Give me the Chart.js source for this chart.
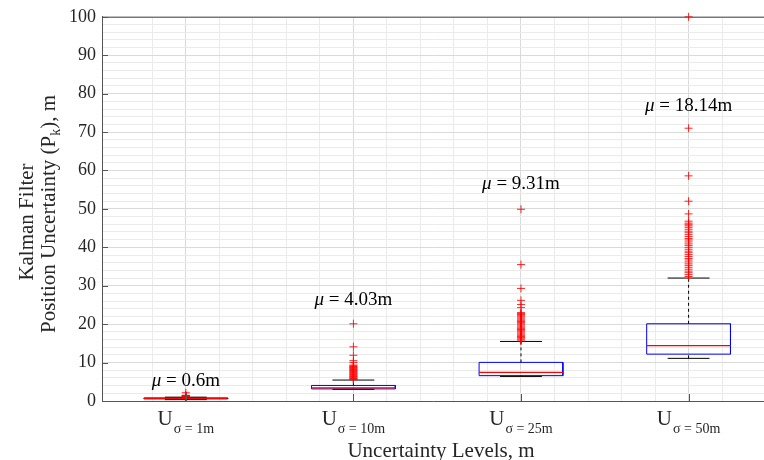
<!DOCTYPE html>
<html>
<head>
<meta charset="utf-8">
<title>Kalman Filter Position Uncertainty</title>
<script src="https://cdn.jsdelivr.net/npm/chart.js@4/dist/chart.umd.min.js"></script>
<style>
  html, body { margin: 0; padding: 0; background: #fff; }
  #wrap { width: 764px; height: 460px; position: relative; }
</style>
</head>
<body>
<div id="wrap"><canvas id="boxChart"></canvas></div>
<script>
// uncertainty levels (sigma) shown on the x axis
const levels = ['1m', '10m', '25m', '50m'];
const means = [0.6, 4.03, 9.31, 18.14];

// box statistics per level
const q1 = [0.55, 3.15, 6.6, 12.2];
const medians = [0.7, 3.4, 7.45, 14.4];
const q3 = [0.8, 4.05, 10.05, 20.1];
const whiskerLow = [0.35, 3.05, 6.4, 11.1];
const whiskerHigh = [1.0, 5.45, 15.5, 32.0];

// outliers per level
const outliers1m = [1.05, 1.1, 1.15, 1.2, 1.25, 1.3, 1.35, 1.4, 1.5, 2.15];
const outliers10m = [5.55, 5.7, 5.85, 6.0, 6.2, 6.35, 6.5, 6.7, 6.85, 7.0, 7.2, 7.35,
  7.5, 7.7, 7.85, 8.0, 8.2, 8.35, 8.5, 8.7, 8.85, 9.0, 9.15, 9.35, 10.0, 10.5, 11.9, 14.1, 20.1];
const outliers25m = [15.6, 15.9, 16.2, 16.5, 16.8, 17.1, 17.4, 17.7, 18.0, 18.3, 18.6,
  18.9, 19.2, 19.5, 19.8, 20.1, 20.4, 20.7, 21.0, 21.3, 21.6, 21.9, 22.2, 22.5, 22.8,
  23.0, 24.3, 25.1, 26.2, 29.3, 35.5, 49.9];
const outliers50m = [32.4, 32.9, 33.4, 33.8, 34.3, 34.8, 35.3, 35.7, 36.2, 36.7, 37.1,
  37.6, 38.1, 38.6, 39.0, 39.5, 40.0, 40.5, 40.9, 41.4, 41.9, 42.3, 42.8, 43.3, 43.8,
  44.2, 44.7, 45.2, 45.6, 46.0, 46.3, 46.8, 48.7, 52.0, 58.6, 71.0, 100];
const outliers = [outliers1m, outliers10m, outliers25m, outliers50m];

// y axis ticks
const yTicks = [0, 10, 20, 30, 40, 50, 60, 70, 80, 90, 100];

// where the mean annotation sits (in data units)
const meanLabelY = [5.2, 26.2, 56.4, 76.9];

const SERIF = '"Liberation Serif", "Times New Roman", serif';
const HALF = 0.25;   // half box width, x units
const CAP = 0.125;   // half whisker cap width

// build the line segments of each box plot
const boxPts = [], medPts = [], whiskPts = [], capPts = [], outPts = [];
levels.forEach((lv, k) => {
  const x = k + 1;
  boxPts.push({x: x - HALF, y: q1[k]}, {x: x - HALF, y: q3[k]}, {x: x + HALF, y: q3[k]},
    {x: x + HALF, y: q1[k]}, {x: x - HALF, y: q1[k]}, {x: x, y: null});
  medPts.push({x: x - HALF, y: medians[k]}, {x: x + HALF, y: medians[k]}, {x: x, y: null});
  whiskPts.push({x: x, y: q3[k]}, {x: x, y: whiskerHigh[k]}, {x: x + 0.01, y: null},
    {x: x, y: whiskerLow[k]}, {x: x, y: q1[k]}, {x: x + 0.01, y: null});
  capPts.push({x: x - CAP, y: whiskerHigh[k]}, {x: x + CAP, y: whiskerHigh[k]}, {x: x, y: null},
    {x: x - CAP, y: whiskerLow[k]}, {x: x + CAP, y: whiskerLow[k]}, {x: x, y: null});
  outliers[k].forEach(v => outPts.push({x: x, y: v}));
});

const isWhole = v => Math.abs(v - Math.round(v)) < 1e-6;

// axis decorations and all the serif text (subscripts, italic mu)
const textPlugin = {
  id: 'boxText',
  afterDraw(chart) {
    const ctx = chart.ctx;
    const xs = chart.scales.x, ys = chart.scales.y;
    const area = chart.chartArea;
    ctx.save();

    // top border and inward ticks
    ctx.strokeStyle = '#555';
    ctx.lineWidth = 1;
    ctx.beginPath();
    ctx.moveTo(area.left, area.top + 0.5);
    ctx.lineTo(area.right, area.top + 0.5);
    levels.forEach((lv, k) => {
      const px = Math.round(xs.getPixelForValue(k + 1)) + 0.5;
      ctx.moveTo(px, area.bottom);
      ctx.lineTo(px, area.bottom - 7);
    });
    yTicks.forEach(t => {
      const py = Math.round(ys.getPixelForValue(t)) + 0.5;
      ctx.moveTo(area.left, py);
      ctx.lineTo(area.left + 6, py);
    });
    ctx.stroke();

    ctx.fillStyle = '#262626';
    ctx.textBaseline = 'alphabetic';
    ctx.textAlign = 'left';

    // x tick labels: U with sigma subscript
    levels.forEach((lv, k) => {
      const cx = xs.getPixelForValue(k + 1);
      const sub = '\u03c3 = ' + lv;
      ctx.font = '21px ' + SERIF;
      const wU = ctx.measureText('U').width;
      ctx.font = '14px ' + SERIF;
      const wS = ctx.measureText(sub).width;
      const x0 = cx - (wU + 1 + wS) / 2;
      ctx.font = '21px ' + SERIF;
      ctx.fillText('U', x0, 425);
      ctx.font = '14px ' + SERIF;
      ctx.fillText(sub, x0 + wU + 1, 433);
    });

    // x axis title
    ctx.font = '21px ' + SERIF;
    ctx.textAlign = 'center';
    ctx.fillText('Uncertainty Levels, m', 441, 457);

    // y axis title, two rotated lines
    ctx.save();
    ctx.rotate(-Math.PI / 2);
    ctx.font = '21px ' + SERIF;
    ctx.textAlign = 'center';
    ctx.fillText('Kalman Filter', -222, 33);
    const partA = 'Position Uncertainty (P';
    const partB = 'k';
    const partC = '), m';
    const wA = ctx.measureText(partA).width;
    const wC = ctx.measureText(partC).width;
    ctx.font = '14px ' + SERIF;
    const wB = ctx.measureText(partB).width;
    const tx = -214 - (wA + wB + wC) / 2;
    ctx.textAlign = 'left';
    ctx.font = '21px ' + SERIF;
    ctx.fillText(partA, tx, 55);
    ctx.font = '14px ' + SERIF;
    ctx.fillText(partB, tx + wA, 60);
    ctx.font = '21px ' + SERIF;
    ctx.fillText(partC, tx + wA + wB, 55);
    ctx.restore();

    // mean annotations
    ctx.fillStyle = '#000';
    ctx.textBaseline = 'middle';
    means.forEach((m, k) => {
      const cx = xs.getPixelForValue(k + 1);
      const cy = ys.getPixelForValue(meanLabelY[k]);
      const rest = ' = ' + m + 'm';
      ctx.font = 'italic 19px ' + SERIF;
      const wMu = ctx.measureText('\u03bc').width;
      ctx.font = '19px ' + SERIF;
      const wR = ctx.measureText(rest).width;
      const x0 = cx - (wMu + wR) / 2;
      ctx.textAlign = 'left';
      ctx.font = 'italic 19px ' + SERIF;
      ctx.fillText('\u03bc', x0, cy);
      ctx.font = '19px ' + SERIF;
      ctx.fillText(rest, x0 + wMu, cy);
    });

    ctx.restore();
  }
};

new Chart(document.getElementById('boxChart'), {
  type: 'line',
  data: {
    datasets: [
      {
        type: 'scatter',
        label: 'Outliers',
        data: outPts,
        pointStyle: 'cross',
        pointRadius: 4,
        pointBorderColor: 'rgba(255, 0, 0, 0.85)',
        pointBorderWidth: 1,
        clip: false,
        order: 0
      },
      {
        label: 'Median',
        data: medPts,
        borderColor: '#ff0000',
        borderWidth: 1.2,
        pointRadius: 0,
        spanGaps: false,
        order: 1
      },
      {
        label: 'Caps',
        data: capPts,
        borderColor: '#000000',
        borderWidth: 1,
        pointRadius: 0,
        spanGaps: false,
        order: 2
      },
      {
        label: 'Whiskers',
        data: whiskPts,
        borderColor: '#000000',
        borderWidth: 1,
        borderDash: [3, 3],
        pointRadius: 0,
        spanGaps: false,
        order: 3
      },
      {
        label: 'Box',
        data: boxPts,
        borderColor: '#0000ff',
        borderWidth: 1,
        pointRadius: 0,
        spanGaps: false,
        order: 4
      }
    ]
  },
  options: {
    responsive: true,
    maintainAspectRatio: false,
    animation: false,
    layout: { autoPadding: false, padding: { top: 16, right: 0, left: 0, bottom: 0 } },
    plugins: {
      legend: { display: false },
      tooltip: { enabled: false }
    },
    scales: {
      x: {
        type: 'linear',
        min: 0.5,
        max: 4.45,
        offset: false,
        ticks: { display: false, stepSize: 0.2, autoSkip: false },
        grid: {
          drawTicks: false,
          offset: false,
          color: ctx => isWhole(ctx.tick.value) ? '#dadada' : '#ebebeb'
        },
        border: { display: true, color: '#555', width: 1 },
        afterFit: s => { s.height = 59; s.paddingLeft = 0; s.paddingRight = 0; }
      },
      y: {
        min: 0,
        max: 100,
        ticks: {
          stepSize: 2,
          autoSkip: false,
          padding: 6,
          color: '#262626',
          font: { family: SERIF, size: 18 },
          callback: v => (v % 10 === 0 ? v : '')
        },
        grid: {
          drawTicks: false,
          color: ctx => (ctx.tick.value % 10 === 0 ? '#dadada' : '#ebebeb')
        },
        border: { display: true, color: '#555', width: 1 },
        afterFit: s => { s.width = 102; }
      }
    }
  },
  plugins: [textPlugin]
});
</script>
</body>
</html>
